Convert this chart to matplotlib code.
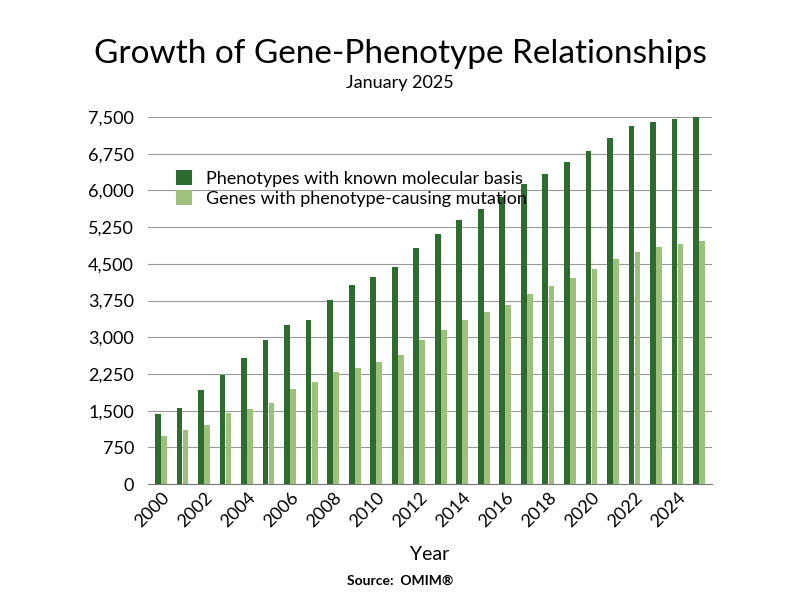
import matplotlib.pyplot as plt
import numpy as np

plt.rcParams["font.family"] = "Lato"

years = list(range(2000, 2026))
phenotypes = [1430, 1550, 1920, 2225, 2570, 2940, 3245, 3350, 3755, 4060, 4225, 4430, 4815,
              5120, 5390, 5630, 5875, 6140, 6345, 6590, 6815, 7080, 7325, 7405, 7465, 7510]
genes = [980, 1100, 1200, 1450, 1530, 1650, 1940, 2080, 2285, 2365, 2490, 2630, 2940,
         3140, 3345, 3510, 3670, 3895, 4040, 4220, 4405, 4590, 4750, 4835, 4915, 4975]

fig = plt.figure(figsize=(8, 6), dpi=100)
ax = fig.add_axes([0.185, 0.193, 0.705, 0.612])

x = np.arange(len(years))
w = 0.27
ax.bar(x - 0.14, phenotypes, w, color="#2e6b2f", label="Phenotypes with known molecular basis", zorder=3)
ax.bar(x + 0.14, genes, w, color="#9dc07c", label="Genes with phenotype-causing mutation", zorder=3)

ax.set_ylim(0, 7500)
ax.set_yticks(np.arange(0, 7501, 750))
ax.set_yticklabels([f"{v:,}" for v in range(0, 7501, 750)], fontsize=13)
ax.tick_params(axis="y", pad=10)
ax.yaxis.grid(True, color="#999999", linewidth=0.8, zorder=0)
ax.set_xlim(-0.6, len(years) - 0.4)
ax.set_xticks(x[::2])
ax.set_xticklabels([str(y) for y in years[::2]], rotation=45, ha="right", rotation_mode="anchor", fontsize=13)
ax.tick_params(length=0)
for s in ["top", "right", "left"]:
    ax.spines[s].set_visible(False)
ax.spines["bottom"].set_color("#777777")
ax.set_xlabel("Year", fontsize=14, labelpad=12)

ax.legend(loc="upper left", bbox_to_anchor=(0.02, 0.9), frameon=False, fontsize=13,
          handlelength=0.9, handleheight=0.9, labelspacing=0.2)

fig.text(0.5, 0.895, "Growth of Gene-Phenotype Relationships", ha="center", fontsize=24)
fig.text(0.5, 0.853, "January 2025", ha="center", fontsize=13)
fig.text(0.5, 0.025, "Source:  OMIM®", ha="center", fontsize=10, fontweight="bold")

fig.savefig("out.png")
